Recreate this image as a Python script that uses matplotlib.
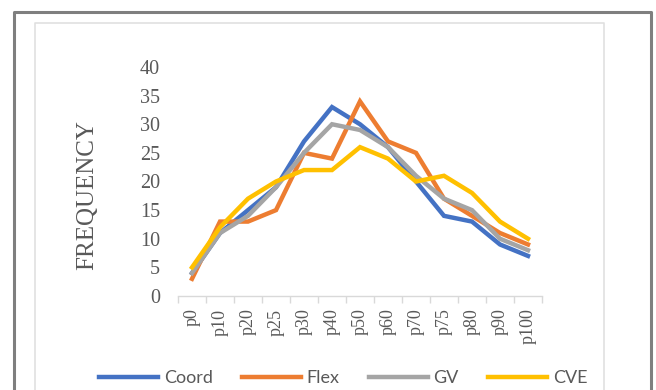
import matplotlib
matplotlib.use('Agg')
import matplotlib.pyplot as plt
from matplotlib.lines import Line2D
from matplotlib.ticker import FixedLocator

# 類別與各系列數值
categories = ['p0', 'p10', 'p20', 'p25', 'p30', 'p40', 'p50',
              'p60', 'p70', 'p75', 'p80', 'p90', 'p100']
coord = [4, 11, 15, 19, 27, 33, 30, 26, 20, 14, 13, 9, 7]
flex  = [3, 13, 13, 15, 25, 24, 34, 27, 25, 17, 14, 11, 9]
gv    = [4, 11, 14, 19, 25, 30, 29, 26, 21, 17, 15, 10, 8]
cve   = [5, 12, 17, 20, 22, 22, 26, 24, 20, 21, 18, 13, 10]
series_names = ['Coord', 'Flex', 'GV', 'CVE']
colors = ['#4472C4', '#ED7D31', '#A5A5A5', '#FFC000']

W, H = 656, 390
fig = plt.figure(figsize=(W / 100, H / 100), dpi=100)
fig.patch.set_facecolor('white')

# 外框（深灰）與內框（淺灰）
def fx(px):
    return px / W

def fy(py):
    return 1 - py / H

outer = [(14, 400), (14, 12), (651, 12), (651, 400)]
fig.add_artist(Line2D([fx(p[0]) for p in outer], [fy(p[1]) for p in outer],
                      color='#7f7f7f', lw=2.2, transform=fig.transFigure))
inner = [(35, 400), (35, 23), (604, 23), (604, 400)]
fig.add_artist(Line2D([fx(p[0]) for p in inner], [fy(p[1]) for p in inner],
                      color='#e0e0e0', lw=1.2, transform=fig.transFigure))

ax = fig.add_axes([fx(178), fy(296), fx(542) - fx(178), fy(67) - fy(296)])
x = list(range(len(categories)))
for name, vals, c in zip(series_names, [coord, flex, gv, cve], colors):
    ax.plot(x, vals, color=c, lw=3.2, label=name, solid_joinstyle='miter')

ax.set_xlim(-0.5, len(categories) - 0.5)
ax.set_ylim(0, 40)
ax.set_yticks(range(0, 41, 5))
ax.set_xticks(x)
ax.set_xticklabels(categories, rotation=90, family='Liberation Serif',
                   fontsize=13, color='#595959')
ax.xaxis.set_minor_locator(FixedLocator([i - 0.5 for i in range(len(categories) + 1)]))
ax.tick_params(axis='x', which='major', length=0, pad=9)
ax.tick_params(axis='x', which='minor', length=5, color='#d9d9d9', width=1)
ax.tick_params(axis='y', length=0, pad=13)
for lab in ax.get_yticklabels():
    lab.set_family('Liberation Serif')
    lab.set_fontsize(14.5)
    lab.set_color('#595959')
for s in ['top', 'right', 'left']:
    ax.spines[s].set_visible(False)
ax.spines['bottom'].set_color('#d9d9d9')
ax.spines['bottom'].set_linewidth(1)

fig.text(fx(87), fy(195), 'FREQUENCY', rotation=90, ha='center', va='center',
         family='Liberation Serif', fontsize=18, color='#595959')

handles, labels = ax.get_legend_handles_labels()
leg = fig.legend(handles, labels, loc='center', bbox_to_anchor=(fx(343), fy(378)),
                 ncol=4, frameon=False, handlelength=3.3, handletextpad=0.3,
                 columnspacing=1.6, prop={'family': 'Lato', 'size': 13})
for t in leg.get_texts():
    t.set_color('#595959')

fig.savefig('out.png', dpi=100)
